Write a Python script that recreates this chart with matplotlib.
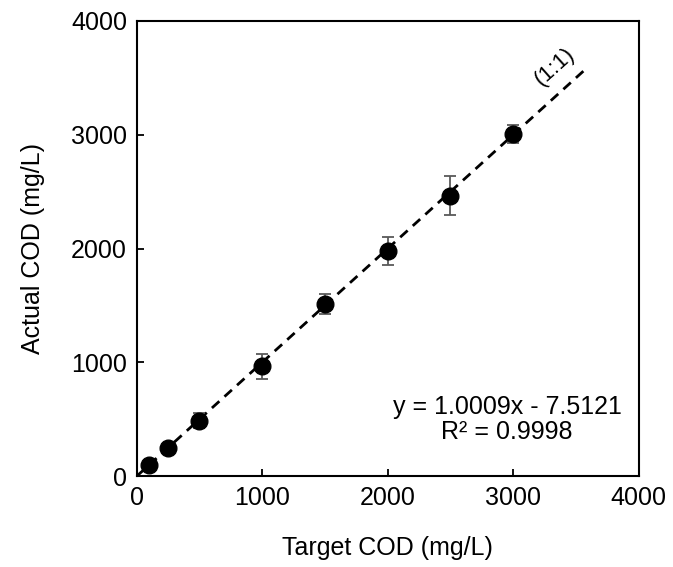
import numpy as np
import matplotlib.pyplot as plt

plt.rcParams['font.family'] = ['Liberation Sans', 'DejaVu Sans']

target = [100, 250, 500, 1000, 1500, 2000, 2500, 3000]
actual = [97, 245, 488, 965, 1515, 1975, 2465, 3005]
err = [20, 25, 66, 110, 88, 123, 172, 79]

fig = plt.figure(figsize=(6.73, 5.67), dpi=100)
ax = fig.add_axes([0.203, 0.160, 0.746, 0.803])

# 1:1 reference line
ref = np.array([0, 3600])
ax.plot(ref, ref, color='black', linestyle=(0, (3.6, 2.5)), linewidth=2.0, zorder=2)

ax.errorbar(target, actual, yerr=err, fmt='o', color='black', markersize=12,
            ecolor='#595959', elinewidth=1.3, capsize=4, capthick=1.3, zorder=3)

ax.text(3330, 3600, '(1:1)', rotation=42, rotation_mode='anchor',
        ha='center', va='center', fontsize=16)
ax.text(2952, 500, 'y = 1.0009x - 7.5121\nR² = 0.9998', ha='center', va='center',
        fontsize=18, linespacing=1.08)

ax.set_xlim(0, 4000)
ax.set_ylim(0, 4000)
ax.set_xticks([0, 1000, 2000, 3000, 4000])
ax.set_yticks([0, 1000, 2000, 3000, 4000])
ax.tick_params(direction='in', length=5, width=1.3, labelsize=18, pad=7)
for s in ax.spines.values():
    s.set_linewidth(1.5)

ax.set_xlabel('Target COD (mg/L)', fontsize=18, labelpad=19)
ax.set_ylabel('Actual COD (mg/L)', fontsize=18, labelpad=19)

fig.savefig('out.png', dpi=100)
